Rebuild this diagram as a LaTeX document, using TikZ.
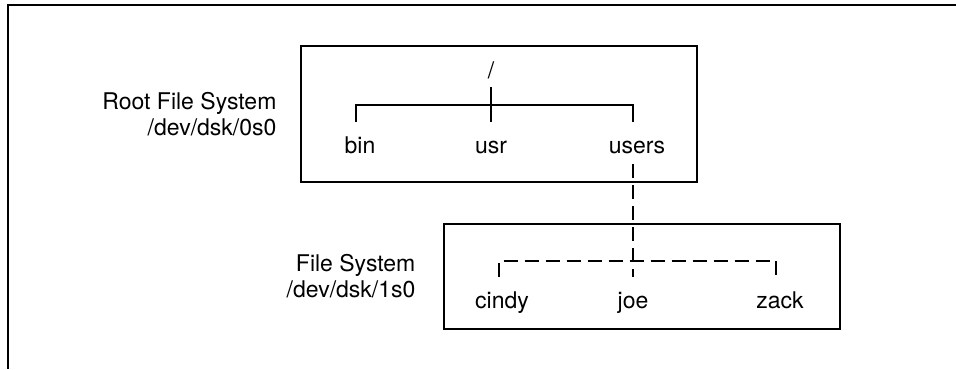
\documentclass[tikz,border=0pt]{standalone}
\usepackage{fontspec}
\setmainfont{TeX Gyre Heros}
\usetikzlibrary{positioning}
\tikzstyle{fs name}=[font=\fontsize{11.5pt}{13pt}\selectfont, text height=8.3pt, text depth=2.5pt, inner xsep=0pt, inner ysep=7pt, on grid]
\tikzstyle{fs box}=[draw, line width=1.2pt, minimum width=198pt, inner sep=0pt]
\tikzstyle{fs label}=[font=\fontsize{11.5pt}{13pt}\selectfont, align=right, inner sep=0pt]
\tikzstyle{tree edge}=[line width=1pt]
\tikzstyle{mount edge}=[line width=1pt, dash pattern=on 7pt off 3.5pt]
\newcommand{\fsnode}[3][]{
  \node [fs name, #1] (#2) {#3}
}

\begin{document}
\begin{tikzpicture}
        \useasboundingbox (0,0) rectangle (478pt,-184.5pt);
        \draw[line width=1.2pt] (478pt,-2.5pt) -- (4pt,-2.5pt) -- (4pt,-184.5pt);

        \node[fs box, minimum height=68pt] (rootfs) at (249.5pt,-57pt) {};
        \node[fs box, minimum height=52.5pt] (mntfs) at (321pt,-138.25pt) {};
        \node[fs label, left=11.5pt of rootfs] (rootlabel) {Root File System\\/dev/dsk/0s0};
        \node[fs label, left=13.5pt of mntfs] (mntlabel) {File System\\/dev/dsk/1s0};

        \fsnode[at={(245.5pt,-73.6pt)}]{usr}{usr};
        \fsnode[left=65.5pt of usr]{bin}{bin};
        \fsnode[right=73pt of usr]{users}{users};
        \fsnode[inner ysep=4.5pt, text depth=0pt, above=38.75pt of usr]{root}{/};

                \fsnode[below left=77.5pt and 2pt of users]{joe}{joe};
                \fsnode[left=65.5pt of joe]{cindy}{cindy};
                \fsnode[right=73.5pt of joe]{zack}{zack};

        \path (root.south) -- (usr.north) coordinate[pos=.5] (rootbar);
        \coordinate[above=8.2pt of joe.north] (mntbar);

            \draw[tree edge] (root.south) -- (usr.north);
            \draw[tree edge] ([xshift=-2pt]bin.north) |- (rootbar) -| ([xshift=-2pt]users.north);

            \draw[mount edge, shorten <=-4pt] ([xshift=-2pt]users.south) -- (joe.north);
            \draw[mount edge] ([xshift=-1.5pt]cindy.north) |- (mntbar) -| ([xshift=-2pt]zack.north);

\end{tikzpicture}
\end{document}
